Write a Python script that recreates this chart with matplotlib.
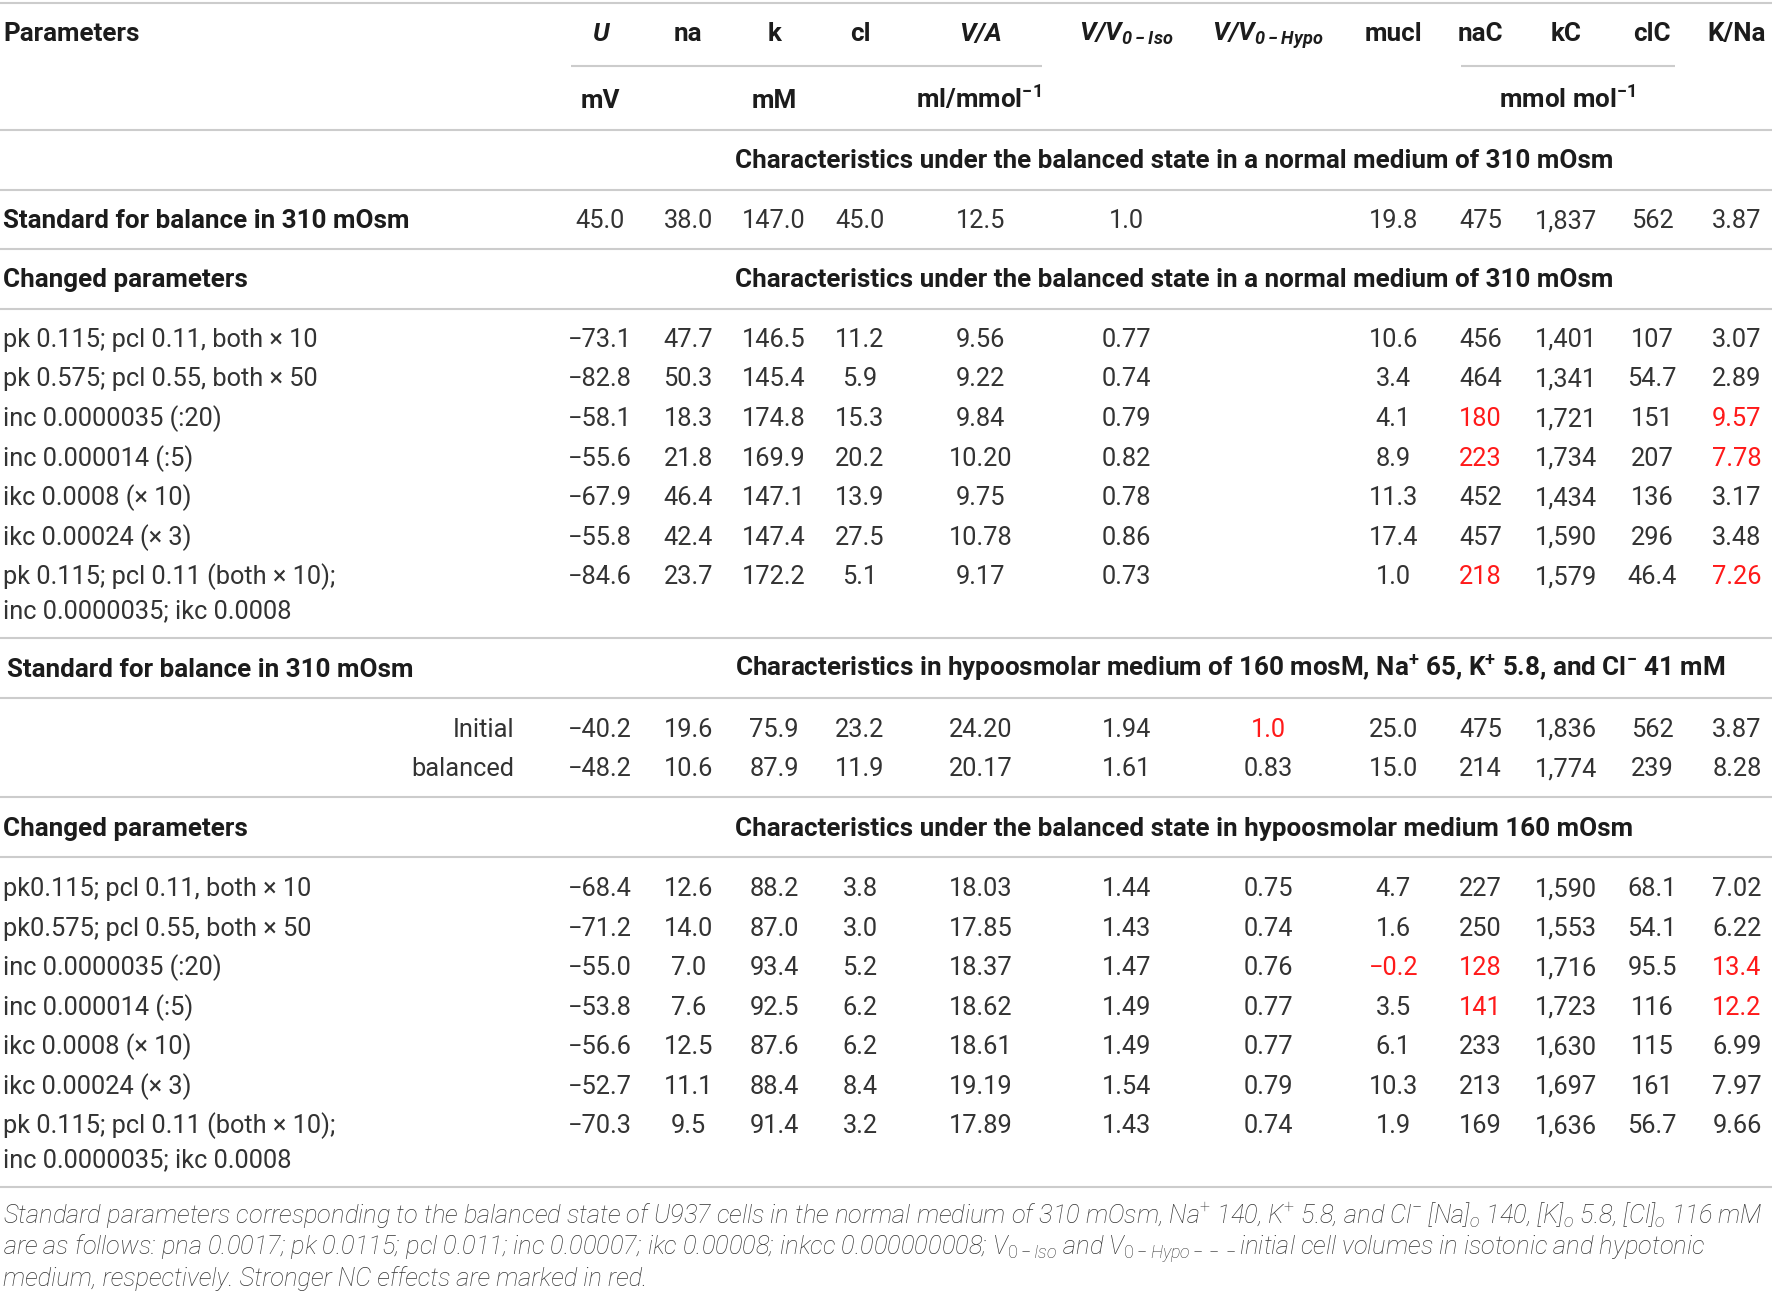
import matplotlib
matplotlib.use('Agg')
import matplotlib.pyplot as plt

plt.rcParams['font.family'] = ['Roboto', 'DejaVu Sans']
plt.rcParams['mathtext.fontset'] = 'custom'
plt.rcParams['mathtext.rm'] = 'Roboto:light'
plt.rcParams['mathtext.it'] = 'Roboto:italic:light'
plt.rcParams['mathtext.bf'] = 'Roboto:bold'
plt.rcParams['mathtext.bfit'] = 'Roboto:italic:bold'

# ---- table content ----
col_heads = ['U', 'na', 'k', 'cl', 'V/A',
             'V/V$_{\\mathbfit{0-Iso}}$', 'V/V$_{\\mathbfit{0-Hypo}}$',
             'mucl', 'naC', 'kC', 'clC', 'K/Na']
italic_heads = [0, 4, 5, 6]
unit_heads = ['mV', 'mM', 'ml/mmol$^{\\mathbf{-1}}$', 'mmol mol$^{\\mathbf{-1}}$']
unit_cols = [0, 2, 4, 9]

sec_iso = 'Characteristics under the balanced state in a normal medium of 310 mOsm'
sec_hypo = ('Characteristics in hypoosmolar medium of 160 mosM, Na$^{\\mathbf{+}}$ 65, '
            'K$^{\\mathbf{+}}$ 5.8, and Cl$^{\\mathbf{-}}$ 41 mM')
sec_hypo_bal = 'Characteristics under the balanced state in hypoosmolar medium 160 mOsm'

standard_310 = ['45.0', '38.0', '147.0', '45.0', '12.5', '1.0', '',
                '19.8', '475', '1,837', '562', '3.87']

iso_labels = ['pk 0.115; pcl 0.11, both \u00d7 10',
              'pk 0.575; pcl 0.55, both \u00d7 50',
              'inc 0.0000035 (:20)',
              'inc 0.000014 (:5)',
              'ikc 0.0008 (\u00d7 10)',
              'ikc 0.00024 (\u00d7 3)',
              'pk 0.115; pcl 0.11 (both \u00d7 10);\ninc 0.0000035; ikc 0.0008']
iso_values = [
    ['\u221273.1', '47.7', '146.5', '11.2', '9.56', '0.77', '', '10.6', '456', '1,401', '107', '3.07'],
    ['\u221282.8', '50.3', '145.4', '5.9', '9.22', '0.74', '', '3.4', '464', '1,341', '54.7', '2.89'],
    ['\u221258.1', '18.3', '174.8', '15.3', '9.84', '0.79', '', '4.1', '180', '1,721', '151', '9.57'],
    ['\u221255.6', '21.8', '169.9', '20.2', '10.20', '0.82', '', '8.9', '223', '1,734', '207', '7.78'],
    ['\u221267.9', '46.4', '147.1', '13.9', '9.75', '0.78', '', '11.3', '452', '1,434', '136', '3.17'],
    ['\u221255.8', '42.4', '147.4', '27.5', '10.78', '0.86', '', '17.4', '457', '1,590', '296', '3.48'],
    ['\u221284.6', '23.7', '172.2', '5.1', '9.17', '0.73', '', '1.0', '218', '1,579', '46.4', '7.26'],
]
iso_red = [(2, 8), (2, 11), (3, 8), (3, 11), (6, 8), (6, 11)]

hypo_std_labels = ['Initial', 'balanced']
hypo_std_values = [
    ['\u221240.2', '19.6', '75.9', '23.2', '24.20', '1.94', '1.0', '25.0', '475', '1,836', '562', '3.87'],
    ['\u221248.2', '10.6', '87.9', '11.9', '20.17', '1.61', '0.83', '15.0', '214', '1,774', '239', '8.28'],
]
hypo_std_red = [(0, 6)]

hypo_labels = ['pk0.115; pcl 0.11, both \u00d7 10',
               'pk0.575; pcl 0.55, both \u00d7 50',
               'inc 0.0000035 (:20)',
               'inc 0.000014 (:5)',
               'ikc 0.0008 (\u00d7 10)',
               'ikc 0.00024 (\u00d7 3)',
               'pk 0.115; pcl 0.11 (both \u00d7 10);\ninc 0.0000035; ikc 0.0008']
hypo_values = [
    ['\u221268.4', '12.6', '88.2', '3.8', '18.03', '1.44', '0.75', '4.7', '227', '1,590', '68.1', '7.02'],
    ['\u221271.2', '14.0', '87.0', '3.0', '17.85', '1.43', '0.74', '1.6', '250', '1,553', '54.1', '6.22'],
    ['\u221255.0', '7.0', '93.4', '5.2', '18.37', '1.47', '0.76', '\u22120.2', '128', '1,716', '95.5', '13.4'],
    ['\u221253.8', '7.6', '92.5', '6.2', '18.62', '1.49', '0.77', '3.5', '141', '1,723', '116', '12.2'],
    ['\u221256.6', '12.5', '87.6', '6.2', '18.61', '1.49', '0.77', '6.1', '233', '1,630', '115', '6.99'],
    ['\u221252.7', '11.1', '88.4', '8.4', '19.19', '1.54', '0.79', '10.3', '213', '1,697', '161', '7.97'],
    ['\u221270.3', '9.5', '91.4', '3.2', '17.89', '1.43', '0.74', '1.9', '169', '1,636', '56.7', '9.66'],
]
hypo_red = [(2, 7), (2, 8), (2, 11), (3, 8), (3, 11)]

footer = [
    'Standard parameters corresponding to the balanced state of U937 cells in the normal medium of 310 mOsm, '
    'Na$^{+}$ 140, K$^{+}$ 5.8, and Cl$^{-}$ [Na]$_{\\mathit{o}}$ 140, '
    '[K]$_{\\mathit{o}}$ 5.8, [Cl]$_{\\mathit{o}}$ 116 mM',
    'are as follows: pna 0.0017; pk 0.0115; pcl 0.011; inc 0.00007; ikc 0.00008; inkcc 0.000000008; '
    'V$_{\\mathit{0-Iso}}$ and V$_{\\mathit{0-Hypo---}}$initial cell volumes in isotonic and hypotonic',
    'medium, respectively. Stronger NC effects are marked in red.',
]

# ---- layout (in reference px, 1568 wide) ----
W, H = 1568, 1143.3
col_x = [531, 609, 685, 761, 868, 997, 1122, 1233, 1310, 1386, 1462, 1537]
FS = 18.7
FS_NUM = 18.3
DARK = '#1c1c1c'
NUM = '#333333'
RED = '#ff1a1a'
GRID = '#cccccc'
BL = 8   # centre -> baseline

fig = plt.figure(figsize=(17.72, 12.92), dpi=100)
ax = fig.add_axes([0, 0, 1, 1])
ax.set_xlim(0, W)
ax.set_ylim(H, 0)
ax.axis('off')


def hline(y, x0=0, x1=W):
    ax.plot([x0, x1], [y, y], color=GRID, lw=1.5, solid_capstyle='butt')


def bold(x, y, s, ha='left', style='normal'):
    ax.text(x, y + BL, s, ha=ha, va='baseline', fontsize=FS, fontweight='bold',
            fontstyle=style, color=DARK)


def values_row(y, vals, red_cols):
    for j, v in enumerate(vals):
        if v == '':
            continue
        ax.text(col_x[j], y + BL, v, ha='center', va='baseline', fontsize=FS_NUM,
                fontweight='normal', color=RED if j in red_cols else NUM)


def label(x, y, s, ha='left', step=30):
    for k, part in enumerate(s.split('\n')):
        ax.text(x, y + BL + k * step, part, ha=ha, va='baseline', fontsize=FS_NUM,
                fontweight='normal', color=NUM)


for y in [3, 115, 168, 220, 273, 565, 618, 705, 758, 1050]:
    hline(y)
hline(58, 505, 922)
hline(58, 1293, 1482)

# header
bold(3, 28, 'Parameters')
for j, h in enumerate(col_heads):
    bold(col_x[j], 28, h, ha='center', style='italic' if j in italic_heads else 'normal')
ux = {0: 531, 2: 685, 4: 866, 9: 1387}
for j, u in zip(unit_cols, unit_heads):
    bold(ux[j], 88, u, ha='center')

# isotonic block
bold(650, 141, sec_iso)
bold(3, 194, 'Standard for balance in 310 mOsm')
values_row(194, standard_310, [])
bold(3, 246, 'Changed parameters')
bold(650, 246, sec_iso)
iso_y = [299, 334, 369, 404, 439, 474, 509]
for i, (lab, vals) in enumerate(zip(iso_labels, iso_values)):
    label(3, iso_y[i], lab)
    values_row(iso_y[i], vals, [c for r, c in iso_red if r == i])

# hypo standard block
bold(6, 591, 'Standard for balance in 310 mOsm')
bold(650, 591, sec_hypo)
for i, (lab, vals) in enumerate(zip(hypo_std_labels, hypo_std_values)):
    y = 644 + 35 * i
    label(455, y, lab, ha='right')
    values_row(y, vals, [c for r, c in hypo_std_red if r == i])

# hypo changed block
bold(3, 732, 'Changed parameters')
bold(650, 732, sec_hypo_bal)
hypo_y = [785, 820, 855, 890, 925, 960, 995]
for i, (lab, vals) in enumerate(zip(hypo_labels, hypo_values)):
    label(3, hypo_y[i], lab)
    values_row(hypo_y[i], vals, [c for r, c in hypo_red if r == i])

# footnote
for k, line in enumerate(footer):
    ax.text(3, 1075 + BL + 27.5 * k, line, ha='left', va='baseline', fontsize=18.4,
            fontstyle='italic', fontweight='light', color=NUM)

fig.savefig('out.png', dpi=100)
